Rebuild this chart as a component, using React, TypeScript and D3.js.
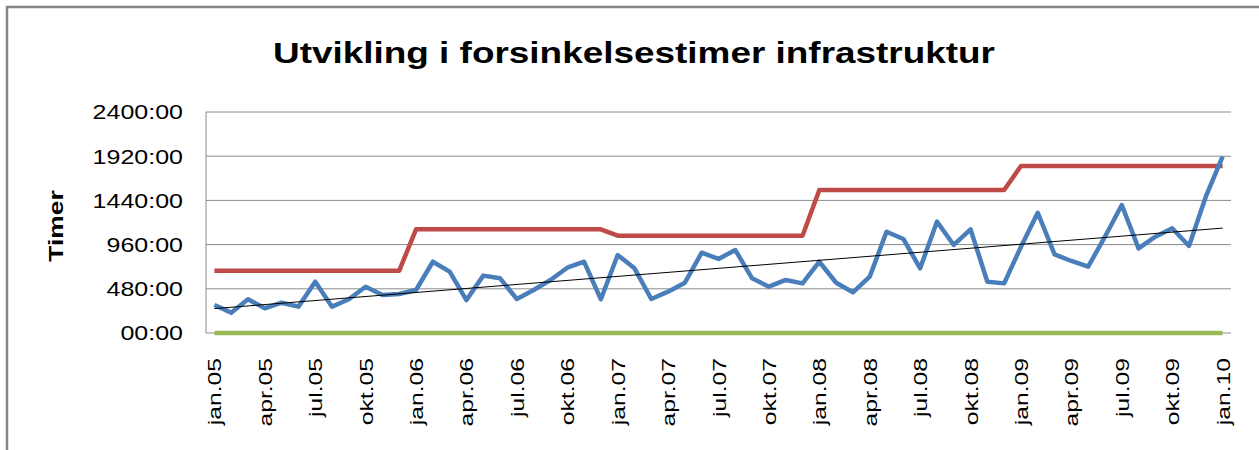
import React from 'react';
import * as d3 from 'd3';

// monthly values jan.05 .. jan.10 (hours)
const delayHours = [
  304, 221, 366, 268, 329, 286, 557, 286, 366, 503, 413, 424,
  467, 774, 666, 358, 623, 594, 369, 467, 576, 709, 774, 366,
  847, 702, 369, 449, 546, 872, 804, 901, 594, 503, 576, 539,
  774, 546, 442, 612, 1100, 1021, 702, 1209, 956, 1126, 557, 539,
  937, 1306, 854, 782, 720, 1046, 1390, 919, 1046, 1137, 945, 1480,
  1915,
];

const targetHours = [
  677, 677, 677, 677, 677, 677, 677, 677, 677, 677, 677, 677,
  1126, 1126, 1126, 1126, 1126, 1126, 1126, 1126, 1126, 1126, 1126, 1126,
  1057, 1057, 1057, 1057, 1057, 1057, 1057, 1057, 1057, 1057, 1057, 1057,
  1553, 1553, 1553, 1553, 1553, 1553, 1553, 1553, 1553, 1553, 1553, 1553,
  1813, 1813, 1813, 1813, 1813, 1813, 1813, 1813, 1813, 1813, 1813, 1813,
  1813,
];

const baseHours = [
  0, 0, 0, 0, 0, 0, 0, 0, 0, 0, 0, 0,
  0, 0, 0, 0, 0, 0, 0, 0, 0, 0, 0, 0,
  0, 0, 0, 0, 0, 0, 0, 0, 0, 0, 0, 0,
  0, 0, 0, 0, 0, 0, 0, 0, 0, 0, 0, 0,
  0, 0, 0, 0, 0, 0, 0, 0, 0, 0, 0, 0,
  0,
];

// a label every third month
const xTickLabels = [
  'jan.05', 'apr.05', 'jul.05', 'okt.05',
  'jan.06', 'apr.06', 'jul.06', 'okt.06',
  'jan.07', 'apr.07', 'jul.07', 'okt.07',
  'jan.08', 'apr.08', 'jul.08', 'okt.08',
  'jan.09', 'apr.09', 'jul.09', 'okt.09',
  'jan.10',
];

const yTicks = [0, 480, 960, 1440, 1920, 2400];
const yTickLabels = ['00:00', '480:00', '960:00', '1440:00', '1920:00', '2400:00'];

const WIDTH = 1259;
const HEIGHT = 450;
const plot = { left: 206, right: 1231, top: 112, bottom: 333 };
const font = '"Liberation Sans", Arial, sans-serif';

export default function App() {
  const idx = d3.range(delayHours.length);

  const x = d3.scalePoint<number>()
    .domain(idx)
    .range([plot.left, plot.right])
    .padding(0.5);

  const y = d3.scaleLinear()
    .domain([0, 2400])
    .range([plot.bottom, plot.top]);

  const line = d3.line<number>()
    .x((_, i) => x(i) as number)
    .y((d) => y(d));

  // linear trend line (least squares) for the blue series
  const mx = d3.mean(idx) as number;
  const my = d3.mean(delayHours) as number;
  const slope =
    d3.sum(idx, (i) => (i - mx) * (delayHours[i] - my)) /
    d3.sum(idx, (i) => (i - mx) * (i - mx));
  const trend = (i: number) => my + slope * (i - mx);
  const first = idx[0];
  const last = idx[idx.length - 1];

  return (
    <svg
      width={WIDTH}
      height={HEIGHT}
      style={{ position: 'absolute', left: 0, top: 0, background: '#fff' }}
    >
      {/* chart frame */}
      <rect x={7} y={7} width={WIDTH + 20} height={HEIGHT + 20} fill="#fff" stroke="#868686" strokeWidth={2.5} />

      <text
        x={634}
        y={63}
        textAnchor="middle"
        fontFamily={font}
        fontWeight="bold"
        fontSize={29}
        textLength={722}
        lengthAdjust="spacingAndGlyphs"
        fill="#000"
      >
        Utvikling i forsinkelsestimer infrastruktur
      </text>

      {/* gridlines */}
      {yTicks.map((t) => (
        <line key={t} x1={plot.left} x2={plot.right} y1={y(t)} y2={y(t)} stroke="#8c8c8c" strokeWidth={1} />
      ))}
      <line x1={plot.left} x2={plot.left} y1={plot.top} y2={plot.bottom} stroke="#8c8c8c" strokeWidth={1} />

      {/* y labels */}
      {yTicks.map((t, i) => (
        <text
          key={t}
          transform={`translate(183,${y(t)}) scale(1.22,1)`}
          textAnchor="end"
          dy="0.36em"
          fontFamily={font}
          fontSize={20.5}
          fill="#000"
        >
          {yTickLabels[i]}
        </text>
      ))}

      <text
        transform="translate(63,226) rotate(-90) scale(1.26,1)"
        textAnchor="middle"
        fontFamily={font}
        fontWeight="bold"
        fontSize={21}
        fill="#000"
      >
        Timer
      </text>

      {/* x labels */}
      {xTickLabels.map((lab, k) => (
        <text
          key={lab}
          transform={`translate(${(x(k * 3) as number) + 7},358) rotate(-90) scale(1.37,1)`}
          textAnchor="end"
          fontFamily={font}
          fontSize={18}
          fill="#000"
        >
          {lab}
        </text>
      ))}

      {/* series */}
      <path d={line(baseHours) as string} fill="none" stroke="#98b954" strokeWidth={4.5} />
      <path d={line(targetHours) as string} fill="none" stroke="#be4b48" strokeWidth={4.5} strokeLinejoin="round" />
      <path d={line(delayHours) as string} fill="none" stroke="#4a7ebb" strokeWidth={4.5} strokeLinejoin="round" />
      <line
        x1={x(first) as number}
        x2={x(last) as number}
        y1={y(trend(first))}
        y2={y(trend(last))}
        stroke="#000"
        strokeWidth={1}
      />
    </svg>
  );
}
